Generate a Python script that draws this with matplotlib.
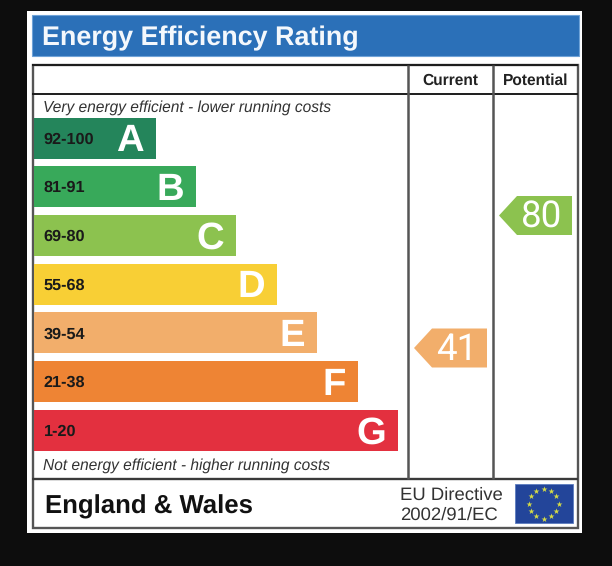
import numpy as np
import matplotlib
matplotlib.use("Agg")
import matplotlib.pyplot as plt
from matplotlib.patches import Rectangle, Polygon

plt.rcParams["font.family"] = ["Liberation Sans", "DejaVu Sans"]
plt.rcParams["text.hinting"] = "no_hinting"

# Rating bands, best to worst
band_letters = ["A", "B", "C", "D", "E", "F", "G"]
band_ranges = ["92-100", "81-91", "69-80", "55-68", "39-54", "21-38", "1-20"]
band_lengths = [122, 162, 202, 243, 283, 324, 364]
band_colours = ["#24855b", "#38a95a", "#8cc24f", "#f8cf35", "#f2ae6b", "#ee8434", "#e3303f"]

column_names = ["Current", "Potential"]
scores = [41, 80]
score_colours = ["#f2ae6b", "#8cc24f"]

fig = plt.figure(figsize=(6.12, 5.66), dpi=100, facecolor="#0d0d0d")
ax = fig.add_axes([0, 0, 1, 1])
ax.set_xlim(0, 612)
ax.set_ylim(566, 0)
ax.axis("off")

# Card and title strip
ax.add_patch(Rectangle((27, 10.5), 554.5, 522, fc="white", ec="none"))
ax.add_patch(Rectangle((31.5, 15), 547, 41, fc="#2b70b8", ec="#6fa3d8", lw=0.8))
ax.text(42, 38, "Energy Efficiency Rating", color="#f4f8fc", fontsize=19.4,
        fontweight="bold", ha="left", va="center")

# Table frame
ax.add_patch(Rectangle((33, 64.5), 545, 463.5, fc="none", ec="#555555", lw=1.7))
ax.plot([32, 578], [64.5, 64.5], color="#1c1c1c", lw=1.4, solid_capstyle="butt")
ax.plot([32, 578], [94, 94], color="#1c1c1c", lw=1.4, solid_capstyle="butt")
ax.plot([32, 578], [479, 479], color="#3a3a3a", lw=1.7, solid_capstyle="butt")
ax.plot([408, 408], [65, 479], color="#555555", lw=1.8, solid_capstyle="butt")
ax.plot([493, 493], [65, 479], color="#555555", lw=1.8, solid_capstyle="butt")

for name, x in zip(column_names, [450, 535.5]):
    ax.text(x, 81, name, color="#222222", fontsize=11.2, fontweight="bold",
            ha="center", va="center")

ax.text(43, 108, "Very energy efficient - lower running costs", color="#333333",
        fontsize=11.2, style="italic", ha="left", va="center")
ax.text(43, 466, "Not energy efficient - higher running costs", color="#333333",
        fontsize=11.2, style="italic", ha="left", va="center")

# Bands
row_y = 138 + 48.7 * np.arange(len(band_letters))
ax.barh(row_y, band_lengths, height=41, left=33.5, color=band_colours, linewidth=0)
for y, length, letter, rng in zip(row_y, band_lengths, band_letters, band_ranges):
    ax.text(43.5, y + 1.5, rng, color="#1a1a1a", fontsize=11.7, fontweight="bold",
            ha="left", va="center")
    ax.text(33.5 + length - 11.5, y + 3.5, letter, color="white", fontsize=27.5,
            fontweight="bold", ha="right", va="center")

# Score arrows
for score, colour, right, y in zip(scores, score_colours, [487, 572], [348, 215.5]):
    left = right - 73
    ax.add_patch(Polygon([(left, y), (left + 18, y - 19.5), (right, y - 19.5),
                          (right, y + 19.5), (left + 18, y + 19.5)],
                         closed=True, fc=colour, ec="none"))
    ax.text(right - 30, y + 2, str(score), color="white", fontsize=26.5,
            family="Roboto", ha="center", va="center")

# Footer
ax.text(45, 506.5, "England & Wales", color="#111111", fontsize=18.5, fontweight="bold",
        ha="left", va="center")
ax.text(400, 495, "EU Directive", color="#333333", fontsize=13.3, ha="left", va="center")
ax.text(400, 515, "2002/91/EC", color="#333333", fontsize=13.3, ha="left", va="center")

# EU flag
ax.add_patch(Rectangle((514.5, 484), 58, 39, fc="#23459a", ec="#5c7cc0", lw=0.6))
angles = np.deg2rad(np.arange(0, 360, 30))
ax.scatter(543.5 + 15 * np.cos(angles), 503.5 + 15 * np.sin(angles), marker="*", s=20,
           color="#d6dc45", linewidths=0, zorder=3)

fig.savefig("out.png", dpi=100, facecolor=fig.get_facecolor())
